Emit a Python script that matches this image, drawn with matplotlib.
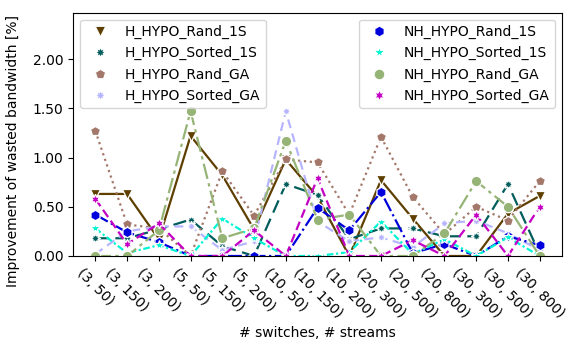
import matplotlib
matplotlib.use("Agg")
from matplotlib import pyplot as plt
from matplotlib.lines import Line2D
from matplotlib.ticker import FormatStrFormatter
import numpy as np

configs = ["(3, 50)", "(3, 150)", "(3, 200)", "(5, 50)", "(5, 150)",
           "(5, 200)", "(10, 50)", "(10, 150)", "(10, 200)", "(20, 300)",
           "(20, 500)", "(20, 800)", "(30, 300)", "(30, 500)", "(30, 800)"]

h_rand_1s = [0.63, 0.63, 0.17, 1.22, 0.82, 0.27, 0.98, 0.60, 0.00, 0.77,
             0.38, 0.00, 0.00, 0.43, 0.61]
h_sorted_1s = [0.18, 0.18, 0.27, 0.37, 0.10, 0.00, 0.73, 0.62, 0.17, 0.28,
               0.28, 0.20, 0.20, 0.73, 0.02]
h_rand_ga = [1.27, 0.32, 0.28, 0.00, 0.86, 0.41, 0.98, 0.95, 0.42, 1.21,
             0.60, 0.22, 0.50, 0.36, 0.76]
h_sorted_ga = [0.02, 0.25, 0.30, 0.30, 0.06, 0.15, 1.47, 0.35, 0.15, 0.19,
               0.09, 0.33, 0.36, 0.23, 0.06]
nh_rand_1s = [0.42, 0.24, 0.14, 0.00, 0.00, 0.00, 0.00, 0.49, 0.26, 0.65,
              0.03, 0.12, 0.00, 0.20, 0.11]
nh_sorted_1s = [0.28, 0.03, 0.11, 0.00, 0.38, 0.18, 0.00, 0.00, 0.04, 0.35,
                0.02, 0.17, 0.00, 0.19, 0.00]
nh_rand_ga = [0.00, 0.00, 0.26, 1.47, 0.18, 0.28, 1.17, 0.37, 0.42, 0.00,
              0.00, 0.23, 0.76, 0.50, 0.00]
nh_sorted_ga = [0.58, 0.12, 0.33, 0.00, 0.00, 0.26, 0.00, 0.79, 0.00, 0.00,
                0.16, 0.00, 0.42, 0.00, 0.50]

# name, values, colour, marker, line style
series = [
    ("H_HYPO_Rand_1S", h_rand_1s, "#5e3f00", "v", "-"),
    ("H_HYPO_Sorted_1S", h_sorted_1s, "#005d5b", (8, 1, 0), (0, (6, 3))),
    ("H_HYPO_Rand_GA", h_rand_ga, "#a3786a", "p", ":"),
    ("H_HYPO_Sorted_GA", h_sorted_ga, "#b8b5ff", (8, 1, 0), (0, (4, 2.5))),
    ("NH_HYPO_Rand_1S", nh_rand_1s, "#0000dd", "h", "-."),
    ("NH_HYPO_Sorted_1S", nh_sorted_1s, "#00f5d5", "*", (0, (3, 1.2, 1, 1.2))),
    ("NH_HYPO_Rand_GA", nh_rand_ga, "#96b476", "o", (0, (7, 2, 1.5, 2))),
    ("NH_HYPO_Sorted_GA", nh_sorted_ga, "#c300c3", (6, 1, 0), (0, (4, 2))),
]

fig = plt.figure(figsize=(5.67, 3.48), dpi=100)
ax = fig.add_axes([0.129, 0.2644, 0.862, 0.699])

x = np.arange(len(configs))
handles = []
for name, vals, color, marker, ls in series:
    ax.plot(x, vals, color=color, linestyle=ls, linewidth=1.6,
            marker=marker, markersize=7.5, markeredgecolor="white",
            markeredgewidth=0.9)
    handles.append(Line2D([], [], color=color, marker=marker, linestyle="none",
                          markersize=7.5, markeredgecolor="white",
                          markeredgewidth=0.6, label=name))

ax.set_ylim(0, 2.47)
ax.set_yticks([0, 0.5, 1.0, 1.5, 2.0])
ax.yaxis.set_major_formatter(FormatStrFormatter("%.2f"))
ax.set_xticks(x)
ax.set_xticklabels(configs, rotation=-45)
ax.tick_params(labelsize=10)
ax.set_xlabel("# switches, # streams", fontsize=10)
ax.set_ylabel("Improvement of wasted bandwidth [%]", fontsize=10)
ax.yaxis.set_label_coords(-0.108, 0.43)

leg1 = ax.legend(handles=handles[:4], loc="upper left", fontsize=10)
ax.add_artist(leg1)
ax.legend(handles=handles[4:], loc="upper right", fontsize=10)

fig.savefig("out.png", dpi=100)
